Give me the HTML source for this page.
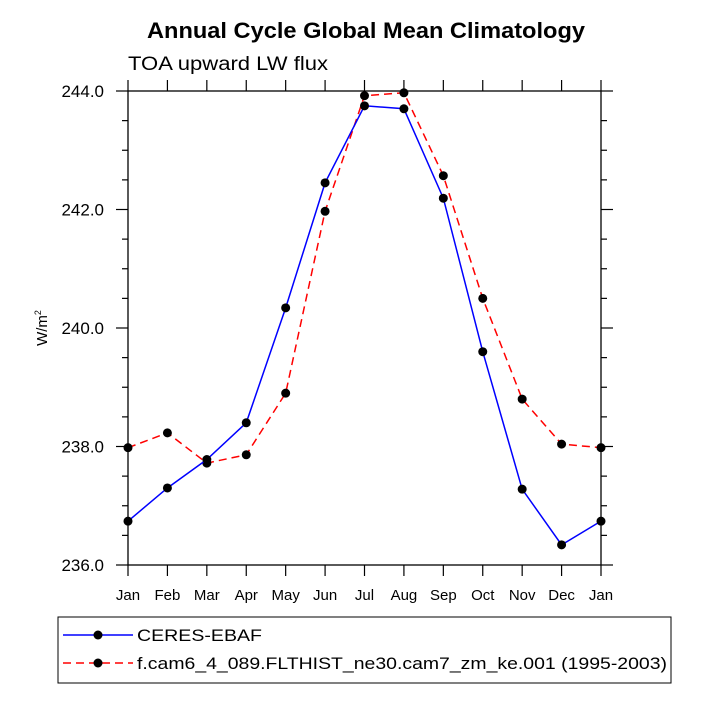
<!DOCTYPE html>
<html><head><meta charset="utf-8"><style>
body{margin:0;background:#fff;width:701px;height:701px;overflow:hidden}
svg{font-family:"Liberation Sans",sans-serif}
</style></head><body>
<svg id="chart" width="701" height="701">
<text x="147" y="38" font-size="22" font-weight="bold" textLength="438" lengthAdjust="spacingAndGlyphs">Annual Cycle Global Mean Climatology</text>
<text x="128" y="70" font-size="19" textLength="200" lengthAdjust="spacingAndGlyphs">TOA upward LW flux</text>
<text transform="translate(47,328) rotate(-90)" font-size="15" text-anchor="middle">W/m<tspan font-size="9" dy="-6">2</tspan></text>
<g id="axes"></g>
<g id="series"></g>
<g>
<rect x="58" y="617" width="613" height="66" fill="none" stroke="#000" stroke-width="1"/>
<line x1="63" y1="635" x2="133" y2="635" stroke="#0000ff" stroke-width="1.5"/>
<circle cx="98" cy="635" r="4.5" fill="#000"/>
<text x="137" y="641" font-size="17" textLength="125" lengthAdjust="spacingAndGlyphs">CERES-EBAF</text>
<line x1="63" y1="663" x2="133" y2="663" stroke="#ff0000" stroke-width="1.5" stroke-dasharray="8,5"/>
<circle cx="98" cy="663" r="4.5" fill="#000"/>
<text x="137" y="669" font-size="17" textLength="530" lengthAdjust="spacingAndGlyphs">f.cam6_4_089.FLTHIST_ne30.cam7_zm_ke.001 (1995-2003)</text>
</g>
</svg>
<script>
const months=["Jan","Feb","Mar","Apr","May","Jun","Jul","Aug","Sep","Oct","Nov","Dec","Jan"];
const ceres=[236.74,237.30,237.78,238.40,240.34,242.45,243.75,243.70,242.19,239.60,237.28,236.34,236.74];
const model=[237.98,238.23,237.72,237.86,238.90,241.97,243.92,243.97,242.57,240.50,238.80,238.04,237.98];
const yTicks=[236,238,240,242,244];
const X0=128,X1=601,Y0=565,Y1=91,YMIN=236,YMAX=244;
const xs=i=>X0+(X1-X0)*i/(months.length-1);
const ys=v=>Y0-(v-YMIN)/(YMAX-YMIN)*(Y0-Y1);
const NS="http://www.w3.org/2000/svg";
function mk(t,a,p){const e=document.createElementNS(NS,t);for(const k in a)e.setAttribute(k,a[k]);p.appendChild(e);return e;}
const ax=document.getElementById('axes');
const frame=mk('rect',{x:X0,y:Y1,width:X1-X0,height:Y0-Y1,fill:'none',stroke:'#000','stroke-width':1.3},ax);


months.forEach((m,i)=>{const x=xs(i);
mk('line',{x1:x,y1:Y0,x2:x,y2:Y0+11,stroke:'#000','stroke-width':1.2},ax);
mk('line',{x1:x,y1:Y1,x2:x,y2:Y1-11,stroke:'#000','stroke-width':1.2},ax);
const t=mk('text',{x:x,y:Y0+35,'font-size':15,'text-anchor':'middle'},ax);t.textContent=m;

});
for(let v=YMIN;v<=YMAX+1e-9;v+=0.5){const y=ys(v);const maj=Math.abs(v-Math.round(v/2)*2)<1e-9;const L=maj?12:6;
mk('line',{x1:X0-L,y1:y,x2:X0,y2:y,stroke:'#000','stroke-width':1.2},ax);
mk('line',{x1:X1,y1:y,x2:X1+L,y2:y,stroke:'#000','stroke-width':1.2},ax);}
yTicks.forEach(v=>{const t=mk('text',{x:104,y:ys(v)+6,'font-size':17,'text-anchor':'end'},ax);t.textContent=v.toFixed(1);

});
const sg=document.getElementById('series');
function draw(arr,color,dash,name){
const pl=mk('polyline',{points:arr.map((v,i)=>xs(i)+','+ys(v)).join(' '),fill:'none',stroke:color,'stroke-width':1.5,'stroke-dasharray':dash},sg);


arr.forEach((v,i)=>{const c=mk('circle',{cx:xs(i),cy:ys(v),r:4.5,fill:'#000'},sg);

});}
draw(model,'#ff0000','8,5','model');
draw(ceres,'#0000ff','none','ceres');
</script>
</body></html>
